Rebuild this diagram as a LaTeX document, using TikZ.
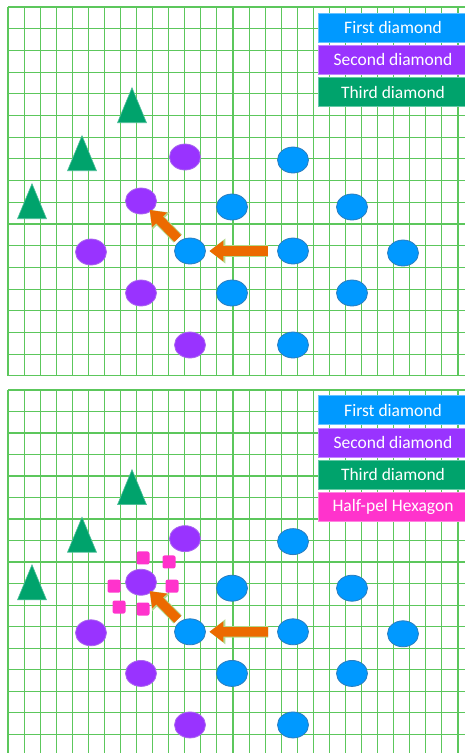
\documentclass[tikz,border=0pt]{standalone}
\usepackage{fontspec}
\usepackage{tikz}
\usetikzlibrary{arrows.meta,positioning,shapes.geometric}
\newfontfamily\legfont{Carlito}
\definecolor{gridgreen}{HTML}{5CC75C}
\definecolor{dblue}{HTML}{0099FF}
\definecolor{dbluerim}{HTML}{2A7DBE}
\definecolor{dpurple}{HTML}{9933FF}
\definecolor{dpurplerim}{HTML}{A966EE}
\definecolor{dgreen}{HTML}{00A36C}
\definecolor{hpink}{HTML}{FF33CC}
\definecolor{mvorange}{HTML}{EC6A00}
\definecolor{mvrim}{HTML}{B4DA8C}

\begin{document}
\begin{tikzpicture}[
    x=1pt, y=-1pt,
    gridline/.style={draw=gridgreen, line width=1.1pt},
    bdia/.style={ellipse, draw=dbluerim, fill=dblue, line width=0.8pt,
                 minimum width=31pt, minimum height=26pt, inner sep=0pt},
    pdia/.style={ellipse, draw=dpurplerim, fill=dpurple, line width=0.8pt,
                 minimum width=31pt, minimum height=26pt, inner sep=0pt},
    tri/.style={isosceles triangle, isosceles triangle stretches,
                shape border rotate=90, anchor=lower side, fill=dgreen,
                draw=dgreen!70!white, line width=0.6pt,
                minimum width=29pt, minimum height=35pt, inner sep=0pt},
    hpel/.style={rectangle, rounded corners=2pt, fill=hpink,
                 minimum size=13pt, inner sep=0pt},
    legbox/.style={draw=#1!60!white, fill=#1, text=white, line width=0.8pt,
                   minimum width=150pt, minimum height=29pt, inner sep=0pt,
                   font=\legfont\fontsize{17.5}{20}\selectfont},
    mvarrow/.style={draw=mvorange, line width=9.5pt,
                    -{Triangle[length=14pt,width=20pt]},
                    preaction={draw=mvrim, line width=11.5pt,
                               -{Triangle[length=16pt,width=24pt]}}},
]
\fill[white] (0,0) rectangle (465,753);
\useasboundingbox (0,0) rectangle (465,753);
\clip (0,0) rectangle (465,753);

\foreach \pn/\py/\ps in {t/7/1, b/390/0.991}{
  \begin{scope}[shift={(0,\py)}, yscale=\ps]
    % grid
    \foreach \k in {0,...,28}
      \draw[gridline] ({8+16.07*\k},0) -- ({8+16.07*\k},369);
    \foreach \j in {0,...,17}
      \draw[gridline] (8,{21.7*\j}) -- (470,{21.7*\j});
    % third diamond
    \foreach \x/\y [count=\i] in {132/116, 82/164, 32/212}
      \node[tri] (\pn-t\i) at (\x,\y) {};
    % second diamond
    \foreach \x/\y [count=\i] in {185/150, 141/194, 91/245, 141/286, 190/338}
      \node[pdia] (\pn-p\i) at (\x,\y) {};
    % first diamond
    \foreach \x/\y [count=\i] in {293/153, 232/200, 352/200, 190/244,
                                  293/244, 403/246, 232/286, 352/286, 293/338}
      \node[bdia] (\pn-b\i) at (\x,\y) {};
    % motion vectors
    \draw[mvarrow, shorten <=9pt, shorten >=3.5pt] (\pn-b5) -- (\pn-b4);
    \draw[mvarrow, shorten <=3pt, shorten >=-2pt] (\pn-b4) -- (\pn-p2);
    % legend
    \node[legbox=dblue] (\pn-l1) at (393,20.5) {First diamond};
    \node[legbox=dpurple, below=2.5pt of \pn-l1] (\pn-l2) {Second diamond};
    \node[legbox=dgreen, below=2.5pt of \pn-l2] (\pn-l3) {Third diamond};
  \end{scope}
}

\begin{scope}[shift={(0,390)}, yscale=0.991]
  \foreach \x/\y [count=\i] in {143/169.5, 169/173.5, 172/198,
                                143/221, 119/219, 114/198}
    \node[hpel] (b-h\i) at (\x,\y) {};
  \node[legbox=hpink, below=2.5pt of b-l3] (b-l4) {Half-pel Hexagon};
\end{scope}
\end{tikzpicture}
\end{document}
